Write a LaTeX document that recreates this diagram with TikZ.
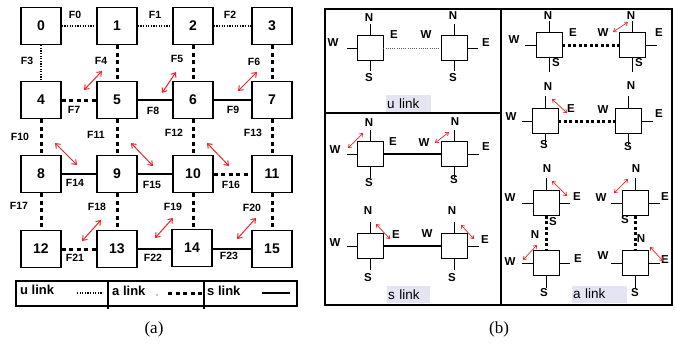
\documentclass[tikz,border=0pt]{standalone}
\usepackage{fontspec}
\setmainfont{Liberation Serif}
\setsansfont{Liberation Sans}
\usetikzlibrary{arrows.meta}
\definecolor{lbg}{RGB}{228,228,243}
\definecolor{ared}{RGB}{235,35,40}
\begin{document}
\begin{tikzpicture}[x=1pt,y=-1pt,
 rt/.style={draw, line width=1.4pt, minimum width=40pt, minimum height=37pt, inner sep=0pt, font=\sffamily\bfseries\fontsize{14}{14}\selectfont},
 fl/.style={font=\sffamily\bfseries\fontsize{10.5}{10.5}\selectfont, inner sep=0pt},
 ulink/.style={line width=1.1pt, dash pattern=on 1.2pt off 1.4pt},
 alink/.style={line width=3pt, dash pattern=on 4pt off 3.5pt},
 slink/.style={line width=1.2pt},
 rarr/.style={ared, line width=1pt, {Straight Barb[length=4pt,width=6pt]}-{Straight Barb[length=4pt,width=6pt]}},
 sr/.style={draw, line width=0.9pt, minimum width=26pt, minimum height=25pt, inner sep=0pt},
 pl/.style={font=\sffamily\bfseries\fontsize{11.5}{11.5}\selectfont, inner sep=0pt},
 stub/.style={line width=0.9pt},
 sarr/.style={ared, line width=0.7pt, {Straight Barb[length=3pt,width=4.5pt]}-{Straight Barb[length=3pt,width=4.5pt]}},
 bulink/.style={line width=1pt, gray!70!black, dash pattern=on 1pt off 1.2pt},
 bslink/.style={line width=2pt},
 balink/.style={line width=3pt, dash pattern=on 3pt off 2.5pt},
 lbox/.style={fill=lbg, anchor=west, inner xsep=1pt, inner ysep=0pt, minimum height=17pt, align=left, font=\sffamily\fontsize{13.5}{13.5}\selectfont},
 legf/.style={font=\sffamily\bfseries\fontsize{13}{13}\selectfont, inner sep=0pt, anchor=west},
 frame/.style={line width=2.4pt}
]
\useasboundingbox (0,0) rectangle (676,343);

% ---------------- (a) ----------------
\node[rt] (n0) at (41,26) {0};
\node[rt] (n1) at (117,26) {1};
\node[rt] (n2) at (193,26) {2};
\node[rt] (n3) at (272,26) {3};
\node[rt] (n4) at (41,100) {4};
\node[rt] (n5) at (117,100) {5};
\node[rt] (n6) at (193,100) {6};
\node[rt] (n7) at (272,100) {7};
\node[rt] (n8) at (41,174) {8};
\node[rt] (n9) at (117,174) {9};
\node[rt] (n10) at (193,174) {10};
\node[rt] (n11) at (272,174) {11};
\node[rt] (n12) at (41,249) {12};
\node[rt] (n13) at (117,249) {13};
\node[rt] (n14) at (192,248) {14};
\node[rt] (n15) at (272,249) {15};

\draw[ulink] (n0) -- (n1);
\draw[ulink] (n1) -- (n2);
\draw[ulink] (n2) -- (n3);
\draw[ulink] (n0) -- (n4);
\draw[alink] (n1) -- (n5);
\draw[alink] (n2) -- (n6);
\draw[alink] (n3) -- (n7);
\draw[alink] (n4) -- (n5);
\draw[slink] (n5) -- (n6);
\draw[slink] (n6) -- (n7);
\draw[alink] (n4) -- (n8);
\draw[alink] (n5) -- (n9);
\draw[alink] (n6) -- (n10);
\draw[alink] (n7) -- (n11);
\draw[slink] (n8) -- (n9);
\draw[slink] (n9) -- (n10);
\draw[alink] (n10) -- (n11);
\draw[alink] (n8) -- (n12);
\draw[alink] (n9) -- (n13);
\draw[alink] (n10.south) -- (n14.north -| n10.south);
\draw[alink] (n11) -- (n15);
\draw[alink] (n12) -- (n13);
\draw[slink] (n13) -- (n14.west |- n13);
\draw[slink] (n14.east |- n15) -- (n15);

\node[fl] (f0) at (75,15) {F0};
\node[fl] (f1) at (155,15) {F1};
\node[fl] (f2) at (230,15) {F2};
\node[fl] (f3) at (27,61) {F3};
\node[fl] (f4) at (101,61) {F4};
\node[fl] (f5) at (177,59) {F5};
\node[fl] (f6) at (254,62) {F6};
\node[fl] (f7) at (74,110) {F7};
\node[fl] (f8) at (153,111) {F8};
\node[fl] (f9) at (233,110) {F9};
\node[fl] (f10) at (20,137) {F10};
\node[fl] (f11) at (96,135) {F11};
\node[fl] (f12) at (174,133) {F12};
\node[fl] (f13) at (253,133) {F13};
\node[fl] (f14) at (75,183) {F14};
\node[fl] (f15) at (152,185) {F15};
\node[fl] (f16) at (231,185) {F16};
\node[fl] (f17) at (19,206) {F17};
\node[fl] (f18) at (97,207) {F18};
\node[fl] (f19) at (173,207) {F19};
\node[fl] (f20) at (252,208) {F20};
\node[fl] (f21) at (75,258) {F21};
\node[fl] (f22) at (153,258) {F22};
\node[fl] (f23) at (229,256) {F23};

\draw[rarr] (84,90) -- (102,71);
\draw[rarr] (162,93) -- (176,72);
\draw[rarr] (238,91) -- (257,72);
\draw[rarr] (55,143) -- (77,165);
\draw[rarr] (131,143) -- (153,166);
\draw[rarr] (207,143) -- (229,166);
\draw[rarr] (82,241) -- (101,220);
\draw[rarr] (155,238) -- (173,218);
\draw[rarr] (237,239) -- (256,218);

% legend
\draw[line width=1.2pt] (16,281) rectangle (297,306);
\draw[line width=1.2pt] (108,281) -- (108,309);
\draw[line width=1.2pt] (204,281) -- (204,309);
\node[legf] (lu) at (20,290) {u link};
\node[legf] (la) at (112,291) {a link};
\node[legf] (ls) at (207,291) {s link};
\draw[ulink] (77,293) -- (103,293);
\fill (157,295) circle (0.6pt);
\draw[alink] (168,293) -- (204,293);
\draw[slink] (262,293) -- (290,293);

\node[font=\fontsize{17}{17}\selectfont, inner sep=0pt] (capa) at (154,329) {(a)};

% ---------------- (b) ----------------
\draw[frame] (325,9) rectangle (672,305);
\draw[frame] (501,9) -- (501,305);
\draw[frame] (325,113) -- (501,113);

% u link cell
\node[sr] (u1) at (370,48) {};
\node[sr] (u2) at (454,48) {};
\draw[bulink] (u1) -- (u2);
\draw[stub] (u1.north) -- ++(0,-11);
\draw[stub] (u1.west) -- ++(-10,0);
\draw[stub] (u1.south) -- ++(0,10);
\draw[stub] (u2.north) -- ++(0,-11);
\draw[stub] (u2.east) -- ++(11,0);
\draw[stub] (u2.south) -- ++(0,10);
\node[pl] (u1n) at (369,18) {N};
\node[pl] (u1w) at (333,43) {W};
\node[pl] (u1e) at (394,35) {E};
\node[pl] (u1s) at (369,78) {S};
\node[pl] (u2n) at (453,16) {N};
\node[pl] (u2w) at (426,35) {W};
\node[pl] (u2e) at (486,43) {E};
\node[pl] (u2s) at (453,78) {S};
\node[lbox, text width=43pt] (ulab) at (386,103.5) {u link};

% s link cell
\node[sr] (sa) at (370,154) {};
\node[sr] (sb) at (454,154) {};
\node[sr] (sc) at (370,246) {};
\node[sr] (sd) at (454,246) {};
\draw[bslink] (sa) -- (sb);
\draw[bslink] (sc) -- (sd);
\foreach \r in {sa,sc}{
  \draw[stub] (\r.north) -- ++(0,-11);
  \draw[stub] (\r.west) -- ++(-10,0);
  \draw[stub] (\r.south) -- ++(0,11);
}
\foreach \r in {sb,sd}{
  \draw[stub] (\r.north) -- ++(0,-11);
  \draw[stub] (\r.east) -- ++(12,0);
  \draw[stub] (\r.south) -- ++(0,11);
}
\node[pl] (san) at (369,123) {N};
\node[pl] (saw) at (335,150) {W};
\node[pl] (sae) at (393,142) {E};
\node[pl] (sas) at (369,183) {S};
\node[pl] (sbn) at (455,122) {N};
\node[pl] (sbw) at (424,143) {W};
\node[pl] (sbe) at (486,147) {E};
\node[pl] (sbs) at (454,180) {S};
\node[pl] (scn) at (368,211) {N};
\node[pl] (scw) at (335,243) {W};
\node[pl] (sce) at (396,235) {E};
\node[pl] (scs) at (368,278) {S};
\node[pl] (sdn) at (452,211) {N};
\node[pl] (sdw) at (427,234) {W};
\node[pl] (sde) at (485,240) {E};
\node[pl] (sds) at (452,278) {S};
\draw[sarr] (348,148) -- (363,133);
\draw[sarr] (435,143) -- (449,132);
\draw[sarr] (376,224) -- (390,239);
\draw[sarr] (461,225) -- (474,239);
\node[lbox, text width=41pt] (slab) at (387,294.5) {s link};

% a link cell
\node[sr] (ae) at (549,45) {};
\node[sr] (af) at (632,45) {};
\node[sr] (ag) at (545,121) {};
\node[sr] (ah) at (628,121) {};
\node[sr] (ai) at (546,203) {};
\node[sr] (aj) at (546,263) {};
\node[sr] (ak) at (635,203) {};
\node[sr] (al) at (635,263) {};
\draw[balink] (ae) -- (af);
\draw[balink] (ag) -- (ah);
\draw[balink] (ai) -- (aj);
\draw[balink] (ak) -- (al);
% stubs
\draw[stub] (ae.north) -- ++(0,-11);
\draw[stub] (ae.west) -- ++(-11,0);
\draw[stub] (ae.south) -- ++(0,14);
\draw[stub] (af.north) -- ++(0,-11);
\draw[stub] (af.east) -- ++(12,0);
\draw[stub] (af.south) -- ++(0,14);
\draw[stub] (ag.north) -- ++(0,-12);
\draw[stub] (ag.west) -- ++(-10,0);
\draw[stub] (ag.south) -- ++(0,11);
\draw[stub] (ah.north) -- ++(0,-12);
\draw[stub] (ah.east) -- ++(12,0);
\draw[stub] (ah.south) -- ++(0,11);
\draw[stub] (ai.north) -- ++(0,-12);
\draw[stub] (ai.west) -- ++(-11,0);
\draw[stub] (ai.east) -- ++(11,0);
\draw[stub] (aj.west) -- ++(-11,0);
\draw[stub] (aj.east) -- ++(11,0);
\draw[stub] (aj.south) -- ++(0,12);
\draw[stub] (ak.north) -- ++(0,-12);
\draw[stub] (ak.west) -- ++(-11,0);
\draw[stub] (ak.east) -- ++(12,0);
\draw[stub] (al.west) -- ++(-11,0);
\draw[stub] (al.east) -- ++(12,0);
\draw[stub] (al.south) -- ++(0,12);
% labels
\node[pl] (aen) at (548,16) {N};
\node[pl] (aew) at (514,40) {W};
\node[pl] (aee) at (573,33) {E};
\node[pl] (aes) at (556,63) {S};
\node[pl] (afn) at (631,16) {N};
\node[pl] (afw) at (603,33) {W};
\node[pl] (afe) at (659,33) {E};
\node[pl] (afs) at (639,63) {S};
\node[pl] (agn) at (548,87) {N};
\node[pl] (agw) at (511,117) {W};
\node[pl] (age) at (571,109) {E};
\node[pl] (ags) at (544,145) {S};
\node[pl] (ahn) at (631,86) {N};
\node[pl] (ahw) at (603,110) {W};
\node[pl] (ahe) at (659,114) {E};
\node[pl] (ahs) at (628,147) {S};
\node[pl] (ain) at (547,169) {N};
\node[pl] (aiw) at (510,198) {W};
\node[pl] (aie) at (577,197) {E};
\node[pl] (ais) at (553,222) {S};
\node[pl] (ajn) at (535,235) {N};
\node[pl] (ajw) at (510,262) {W};
\node[pl] (aje) at (578,259) {E};
\node[pl] (ajs) at (544,293) {S};
\node[pl] (akn) at (636,169) {N};
\node[pl] (akw) at (601,198) {W};
\node[pl] (ake) at (665,197) {E};
\node[pl] (aks) at (625,220) {S};
\node[pl] (aln) at (641,239) {N};
\node[pl] (alw) at (603,256) {W};
\node[pl] (ale) at (665,260) {E};
\node[pl] (als) at (635,293) {S};
\draw[sarr] (613,32) -- (628,22);
\draw[sarr] (552,99) -- (567,113);
\draw[sarr] (552,181) -- (567,196);
\draw[sarr] (523,260) -- (537,245);
\draw[sarr] (614,193) -- (628,179);
\draw[sarr] (650,247) -- (663,261);
\node[lbox, text width=53pt] (alab) at (572,294) {a link};

\node[font=\fontsize{17}{17}\selectfont, inner sep=0pt] (capb) at (499,329) {(b)};
\end{tikzpicture}
\end{document}
